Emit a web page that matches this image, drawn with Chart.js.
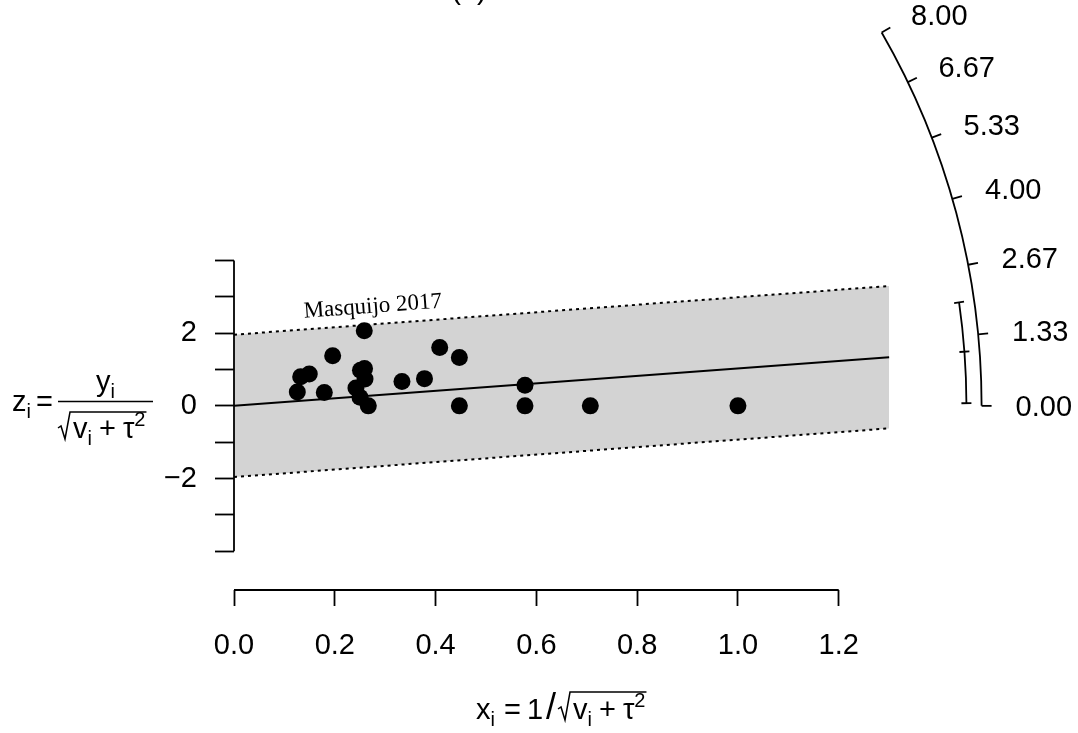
<!DOCTYPE html>
<html>
<head>
<meta charset="utf-8">
<script src="https://cdn.jsdelivr.net/npm/chart.js@4.4.1/dist/chart.umd.min.js"></script>
<style>
  html, body { margin: 0; padding: 0; background: #fff; }
  #radial { display: block; }
</style>
</head>
<body>
<canvas id="radial" width="1078" height="733"></canvas>
<script>
const FONT = "'Liberation Sans', Arial, Helvetica, sans-serif";
const SERIF = "'Liberation Serif', 'DejaVu Serif', serif";

// studies: x = 1/sqrt(v + tau^2), z = y/sqrt(v + tau^2)
const studyX = [0.1256, 0.1323, 0.1494, 0.1958, 0.1792, 0.2585, 0.2510, 0.2590, 0.2600, 0.2420, 0.2500,
                0.2665, 0.3333, 0.3780, 0.4082, 0.4472, 0.4472, 0.5774, 0.5774, 0.7071, 1.0000];
const studyZ = [0.38, 0.80, 0.88, 1.38, 0.37, 2.07, 0.98, 1.03, 0.74, 0.49, 0.24,
                0.00, 0.67, 0.75, 1.61, 1.33, 0.00, 0.57, 0.00, 0.00, 0.00];
const studyLabels = ['', '', '', '', '', 'Masquijo 2017', '', '', '', '', '',
                     '', '', '', '', '', '', '', '', '', ''];

// fitted line and +-1.96 band
const lineX = [0, 1.3];
const fitZ = [0, 1.34];
const upperZ = [1.96, 3.30];
const lowerZ = [-1.96, -0.62];

// summary estimate and CI (on the arc)
const estimate = 1.03;
const ciLower = 0.05;
const ciUpper = 1.98;

// axes
const xTicks = [0, 0.2, 0.4, 0.6, 0.8, 1.0, 1.2];
const xTickLabels = ['0.0', '0.2', '0.4', '0.6', '0.8', '1.0', '1.2'];
const zTicks = [-4, -3, -2, -1, 0, 1, 2, 3, 4];
const zTickLabels = ['', '', '\u22122', '', '0', '', '2', '', ''];
const arcValues = [0, 1.333, 2.667, 4, 5.333, 6.667, 8];
const arcLabels = ['0.00', '1.33', '2.67', '4.00', '5.33', '6.67', '8.00'];
const arcRadius = 1.4835;
const ciRadius = 1.4534;

const pts = (xs, ys) => xs.map((v, i) => ({ x: v, y: ys[i] }));

const big = `29px ${FONT}`;
const small = `20px ${FONT}`;

// parts: {t, font, dy, gap}; gap = extra space before the part
function widthOf(ctx, parts) {
    let w = 0;
    parts.forEach(p => { ctx.font = p.font; w += (p.gap || 0) + ctx.measureText(p.t).width; });
    return w;
}

function putParts(ctx, parts, x, base) {
    parts.forEach(p => {
        x += p.gap || 0;
        ctx.font = p.font;
        ctx.fillText(p.t, x, base + (p.dy || 0));
        x += ctx.measureText(p.t).width;
    });
    return x;
}

function radical(ctx, x, base, top, w) {
    ctx.beginPath();
    ctx.moveTo(x, base - 10);
    ctx.lineTo(x + 3, base - 12);
    ctx.lineTo(x + 7, base + 1);
    ctx.lineTo(x + 12, top);
    ctx.lineTo(x + 16 + w, top);
    ctx.stroke();
    return x + 15;
}

const underRoot = [
    { t: 'v', font: big }, { t: 'i', font: small, dy: 7 },
    { t: '+', font: big, gap: 7 }, { t: '\u03c4', font: big, gap: 7 }, { t: '2', font: small, dy: -12 }
];

function drawYTitle(ctx) {
    putParts(ctx, [{ t: 'z', font: big }, { t: 'i', font: small, dy: 7 }, { t: '=', font: big, gap: 5 }], 12, 411);
    const fl = 58, fr = 153, mid = (fl + fr) / 2;
    ctx.beginPath(); ctx.moveTo(fl, 401.5); ctx.lineTo(fr, 401.5); ctx.stroke();
    const num = [{ t: 'y', font: big }, { t: 'i', font: small, dy: 7 }];
    putParts(ctx, num, mid - widthOf(ctx, num) / 2, 391);
    const w = widthOf(ctx, underRoot);
    putParts(ctx, underRoot, radical(ctx, 58, 438, 412, w), 438);
}

function drawXTitle(ctx) {
    const head = [
        { t: 'x', font: big }, { t: 'i', font: small, dy: 7 },
        { t: '=', font: big, gap: 9 }, { t: '1', font: big, gap: 6 },
        { t: '/', font: `36px ${FONT}`, gap: 3 }
    ];
    const w = widthOf(ctx, underRoot);
    const cx = putParts(ctx, head, 476, 719);
    putParts(ctx, underRoot, radical(ctx, cx + 2, 719, 692, w), 719);
}

const radialExtras = {
    id: 'radialExtras',
    afterDraw(chart) {
        const { ctx, chartArea, scales: { x, y } } = chart;
        const ox = x.getPixelForValue(0), oy = y.getPixelForValue(0);
        const xu = x.getPixelForValue(1) - ox;
        const yu = oy - y.getPixelForValue(1);
        const ang = v => Math.atan(v * yu / xu);
        const at = (r, v, extra) => {
            const a = ang(v), rp = r * xu + (extra || 0);
            return [ox + rp * Math.cos(a), oy - rp * Math.sin(a)];
        };
        const seg = (a, b) => { ctx.beginPath(); ctx.moveTo(a[0], a[1]); ctx.lineTo(b[0], b[1]); ctx.stroke(); };

        ctx.save();
        ctx.strokeStyle = '#000';
        ctx.fillStyle = '#000';
        ctx.lineWidth = 1.8;

        // R-style axis lines, only over the tick range
        seg([ox, y.getPixelForValue(zTicks[0])], [ox, y.getPixelForValue(zTicks[zTicks.length - 1])]);
        seg([x.getPixelForValue(xTicks[0]), chartArea.bottom], [x.getPixelForValue(xTicks[xTicks.length - 1]), chartArea.bottom]);

        // arc with the y scale
        ctx.beginPath();
        ctx.arc(ox, oy, arcRadius * xu, -ang(arcValues[arcValues.length - 1]), -ang(arcValues[0]));
        ctx.stroke();
        ctx.font = big;
        ctx.textAlign = 'left';
        ctx.textBaseline = 'middle';
        arcValues.forEach((v, i) => {
            seg(at(arcRadius, v), at(arcRadius, v, 10));
            const p = at(arcRadius, v, 34);
            ctx.fillText(arcLabels[i], p[0], p[1] + 2);
        });

        // CI of the summary estimate
        ctx.beginPath();
        ctx.arc(ox, oy, ciRadius * xu, -ang(ciUpper), -ang(ciLower));
        ctx.stroke();
        [ciLower, estimate, ciUpper].forEach(v => seg(at(ciRadius, v, -5), at(ciRadius, v, 5)));

        // study label
        studyLabels.forEach((lab, i) => {
            if (!lab) return;
            const px = x.getPixelForValue(studyX[i]), py = y.getPixelForValue(studyZ[i]);
            ctx.save();
            ctx.translate(px + 9, py - 18);
            ctx.rotate(-ang(estimate));
            ctx.font = `23px ${SERIF}`;
            ctx.textAlign = 'center';
            ctx.textBaseline = 'alphabetic';
            ctx.fillText(lab, 0, 0);
            ctx.restore();
        });

        // titles
        ctx.textBaseline = 'alphabetic';
        ctx.textAlign = 'center';
        ctx.font = big;
        ctx.fillText('(a)', 469, -1);
        ctx.textAlign = 'left';
        ctx.lineWidth = 1.5;
        drawYTitle(ctx);
        drawXTitle(ctx);
        ctx.restore();
    }
};

new Chart(document.getElementById('radial'), {
    type: 'scatter',
    data: {
        datasets: [{
            data: pts(studyX, studyZ),
            backgroundColor: '#000',
            borderWidth: 0,
            pointRadius: 8.5,
            order: 0
        }, {
            data: pts(lineX, fitZ),
            showLine: true,
            borderColor: '#000',
            borderWidth: 2,
            pointRadius: 0,
            order: 1
        }, {
            data: pts(lineX, upperZ),
            showLine: true,
            borderColor: '#000',
            borderWidth: 2,
            borderDash: [3, 4],
            pointRadius: 0,
            fill: '+1',
            backgroundColor: '#d3d3d3',
            order: 2
        }, {
            data: pts(lineX, lowerZ),
            showLine: true,
            borderColor: '#000',
            borderWidth: 2,
            borderDash: [3, 4],
            pointRadius: 0,
            order: 3
        }]
    },
    options: {
        responsive: false,
        animation: false,
        events: [],
        layout: { padding: { top: 10, right: 12, left: 0, bottom: 0 } },
        plugins: {
            legend: { display: false },
            tooltip: { enabled: false },
            filler: { drawTime: 'beforeDatasetsDraw' }
        },
        scales: {
            x: {
                type: 'linear',
                min: 0,
                max: 1.651,
                afterBuildTicks: s => { s.ticks = xTicks.map(v => ({ value: v })); },
                afterFit: s => { s.height = 143; s.paddingLeft = 0; s.paddingRight = 0; },
                border: { display: false },
                grid: { drawOnChartArea: false, drawTicks: true, tickLength: 16, tickWidth: 1.8, tickColor: '#000' },
                ticks: {
                    color: '#000',
                    font: { family: FONT, size: 29 },
                    padding: 23,
                    maxRotation: 0,
                    autoSkip: false,
                    callback: (v, i) => xTickLabels[i]
                }
            },
            y: {
                type: 'linear',
                min: -5.07,
                max: 10.9,
                afterBuildTicks: s => { s.ticks = zTicks.map(v => ({ value: v })); },
                afterFit: s => { s.width = 234; s.paddingTop = 0; s.paddingBottom = 0; },
                border: { display: false },
                grid: { drawOnChartArea: false, drawTicks: true, tickLength: 19, tickWidth: 1.8, tickColor: '#000' },
                ticks: {
                    color: '#000',
                    font: { family: FONT, size: 29 },
                    padding: 18,
                    autoSkip: false,
                    callback: (v, i) => zTickLabels[i]
                }
            }
        }
    },
    plugins: [radialExtras]
});
</script>
</body>
</html>
